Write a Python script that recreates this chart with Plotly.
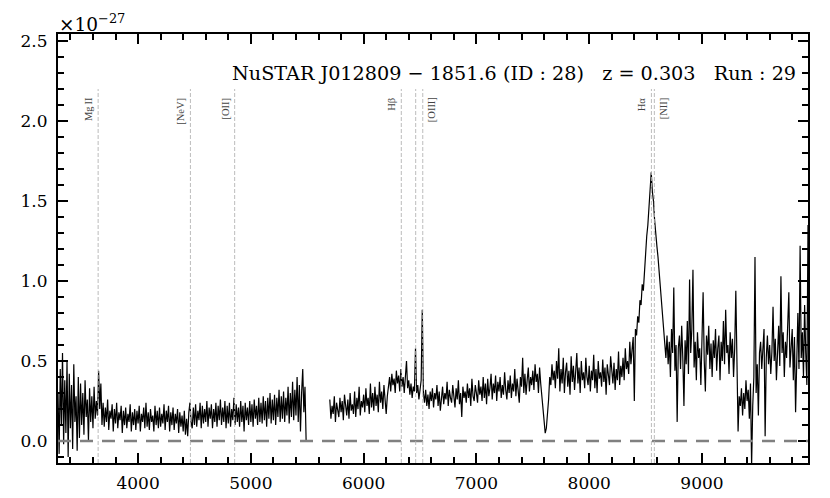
import numpy as np
import plotly.graph_objects as go

# ---------------- data ----------------
REDSHIFT = 0.303
BLUE_START, BLUE_END = 3290, 5490
RED_START, RED_END = 5700, 9940
STEP = 10

flux_blue = [
    0.30, -0.08, 0.45, 0.10, 0.55, -0.02, 0.38, 0.05, 0.50, -0.10,
    0.42, 0.08, 0.35, -0.05, 0.48, 0.12, 0.28, -0.06, 0.40, 0.02,
    0.36, 0.10, 0.30, 0.04, 0.38, 0.15, 0.26, 0.00, 0.33, 0.12,
    0.28, 0.08, 0.34, 0.14, 0.25, 0.16, 0.44, 0.20, 0.36, 0.10,
    0.24, 0.09, 0.21, 0.12, 0.26, 0.07, 0.19, 0.14, 0.23, 0.06,
    0.20, 0.11, 0.24, 0.08, 0.18, 0.13, 0.22, 0.05, 0.19, 0.10,
    0.21, 0.08, 0.17, 0.12, 0.23, 0.06, 0.18, 0.10, 0.20, 0.07,
    0.19, 0.11, 0.22, 0.06, 0.17, 0.12, 0.21, 0.08, 0.24, 0.09,
    0.18, 0.07, 0.20, 0.12, 0.16, 0.06, 0.22, 0.10, 0.19, 0.08,
    0.21, 0.09, 0.17, 0.11, 0.23, 0.07, 0.19, 0.12, 0.22, 0.06,
    0.18, 0.10, 0.21, 0.07, 0.17, 0.11, 0.20, 0.05, 0.18, 0.09,
    0.16, 0.06, 0.19, 0.04, 0.14, 0.03, 0.18, 0.24, 0.12, 0.08,
    0.21, 0.10, 0.23, 0.09, 0.19, 0.13, 0.24, 0.08, 0.22, 0.11,
    0.20, 0.12, 0.25, 0.09, 0.21, 0.14, 0.23, 0.08, 0.20, 0.12,
    0.24, 0.09, 0.22, 0.13, 0.26, 0.10, 0.21, 0.12, 0.25, 0.08,
    0.22, 0.11, 0.24, 0.09, 0.20, 0.13, 0.27, 0.10, 0.23, 0.12,
    0.21, 0.09, 0.25, 0.12, 0.22, 0.06, 0.24, 0.13, 0.21, 0.10,
    0.25, 0.12, 0.23, 0.09, 0.26, 0.14, 0.22, 0.10, 0.27, 0.12,
    0.24, 0.11, 0.28, 0.13, 0.25, 0.09, 0.27, 0.14, 0.30, 0.11,
    0.26, 0.13, 0.29, 0.10, 0.27, 0.15, 0.32, 0.12, 0.28, 0.14,
    0.31, 0.12, 0.27, 0.16, 0.34, 0.11, 0.30, 0.15, 0.37, 0.13,
    0.32, 0.16, 0.40, 0.12, 0.35, 0.06, 0.30, 0.45, 0.18, 0.34,
    0.00,
]

flux_red = [
    0.26, 0.14, 0.22, 0.17, 0.28, 0.12, 0.24, 0.19, 0.15, 0.27,
    0.18, 0.25, 0.13, 0.29, 0.20, 0.16, 0.26, 0.14, 0.30, 0.19,
    0.23, 0.17, 0.31, 0.15, 0.27, 0.20, 0.34, 0.16, 0.25, 0.21,
    0.29, 0.18, 0.33, 0.22, 0.27, 0.17, 0.36, 0.21, 0.30, 0.19,
    0.34, 0.22, 0.29, 0.18, 0.37, 0.24, 0.31, 0.20, 0.35, 0.23,
    0.17, 0.28, 0.33, 0.40, 0.31, 0.42, 0.35, 0.39, 0.30, 0.44,
    0.36, 0.41, 0.31, 0.45, 0.34, 0.40, 0.30, 0.43, 0.50, 0.33,
    0.38, 0.29, 0.36, 0.27, 0.34, 0.31, 0.58, 0.30, 0.35, 0.26,
    0.33, 0.38, 0.82, 0.30, 0.24, 0.32, 0.22, 0.29, 0.20, 0.31,
    0.25, 0.33, 0.21, 0.30, 0.26, 0.35, 0.22, 0.31, 0.19, 0.28,
    0.34, 0.23, 0.30, 0.26, 0.37, 0.22, 0.32, 0.27, 0.24, 0.35,
    0.28, 0.21, 0.33, 0.26, 0.38, 0.23, 0.30, 0.15, 0.34, 0.27,
    0.31, 0.24, 0.36, 0.27, 0.33, 0.22, 0.39, 0.28, 0.25, 0.35,
    0.30, 0.24, 0.38, 0.29, 0.34, 0.25, 0.40, 0.27, 0.36, 0.23,
    0.39, 0.28, 0.33, 0.42, 0.26, 0.36, 0.30, 0.41, 0.25, 0.37,
    0.31, 0.40, 0.27, 0.35, 0.29, 0.43, 0.32, 0.26, 0.38, 0.30,
    0.41, 0.27, 0.36, 0.31, 0.45, 0.28, 0.39, 0.33, 0.24, 0.40,
    0.34, 0.52, 0.30, 0.42, 0.29, 0.38, 0.46, 0.31, 0.40, 0.35,
    0.44, 0.32, 0.48, 0.37, 0.42, 0.30, 0.46, 0.36, 0.28, 0.22,
    0.12, 0.05, 0.08, 0.15, 0.26, 0.40, 0.35, 0.48, 0.38, 0.44,
    0.33, 0.50, 0.39, 0.58, 0.31, 0.45, 0.36, 0.52, 0.30, 0.43,
    0.49, 0.34, 0.44, 0.29, 0.53, 0.37, 0.47, 0.32, 0.41, 0.55,
    0.36, 0.46, 0.30, 0.50, 0.38, 0.43, 0.33, 0.52, 0.40, 0.35,
    0.47, 0.31, 0.44, 0.38, 0.54, 0.33, 0.45, 0.30, 0.50, 0.39,
    0.43, 0.34, 0.51, 0.37, 0.46, 0.29, 0.48, 0.40, 0.35, 0.53,
    0.41, 0.36, 0.49, 0.32, 0.45, 0.38, 0.56, 0.35, 0.47, 0.40,
    0.52, 0.38, 0.58, 0.45, 0.50, 0.42, 0.62, 0.48, 0.57, 0.65,
    0.25, 0.70, 0.66, 0.78, 0.74, 0.88, 0.85, 0.98, 0.94, 1.08,
    1.20, 1.28, 1.35, 1.45, 1.52, 1.68, 1.56, 1.50, 1.38, 1.28,
    1.22, 1.15, 1.06, 0.94, 0.84, 0.74, 0.68, 0.60, 0.52, 0.66,
    0.48, 0.62, 0.40, 0.70, 0.55, 0.96, 0.44, 0.60, 0.12, 0.58,
    0.66, 0.45, 0.72, 0.52, 0.22, 0.63, 0.48, 0.75, 0.42, 1.01,
    0.55, 0.70, 1.07, 0.46, 0.62, 0.38, 0.68, 0.52, 0.58, 0.35,
    0.60, 0.93, 0.50, 0.31, 0.66, 0.54, 0.72, 0.45, 0.61, 0.40,
    0.63, 0.52, 0.70, 0.44, 0.58, 0.66, 0.38, 0.62, 0.50, 0.75,
    0.48, 0.82, 0.55, 0.60, 0.42, 0.68, 0.52, 0.64, 0.40, 0.58,
    0.94, 0.35, 0.06, 0.28, 0.22, 0.33, 0.16, 0.30, 0.20, 0.38,
    0.25, 0.32, 0.14, 0.36, -0.15, 0.22, 0.40, 1.15, 0.30, 0.48,
    0.16, 0.55, 0.62, 0.45, 0.58, 0.70, 0.03, 0.52, 0.66, 0.48,
    0.60, 0.42, 0.56, 0.84, 0.50, 0.64, 0.38, 0.58, 0.72, 0.47,
    1.03, 0.55, 0.68, 0.40, 0.62, 0.52, 0.75, 0.93, 0.46, 0.60,
    0.70, 0.38, 0.65, 0.18, 0.58, 0.80, 0.45, 1.22, 0.52, 0.68,
    0.40, 0.85, 0.55, 0.35, 1.35,
]

line_names = ["Mg\u2009II", "[NeV]", "[OII]", "Hβ", "", "[OIII]", "Hα", "[NII]"]
line_rest = [2798, 3426, 3727, 4861, 4959, 5007, 6563, 6583]
line_side = ["left", "left", "left", "left", "left", "right", "left", "right"]

SP = "\u00a0\u00a0\u00a0"
title_text = "NuSTAR J012809 − 1851.6 (ID : 28)" + SP + "z = 0.303" + SP + "Run : 29"
scale_text = "×10<sup>−27</sup>"

X_RANGE = [3290, 9940]
Y_RANGE = [-0.137, 2.544]

# ---------------- figure ----------------
wave_blue = np.arange(BLUE_START, BLUE_END + 1, STEP)
wave_red = np.arange(RED_START, RED_END + 1, STEP)
assert len(wave_blue) == len(flux_blue), (len(wave_blue), len(flux_blue))
assert len(wave_red) == len(flux_red), (len(wave_red), len(flux_red))

FONT = "DejaVu Serif"

fig = go.Figure()
for w, f in [(wave_blue, flux_blue), (wave_red, flux_red)]:
    fig.add_trace(go.Scatter(x=w, y=f, mode="lines",
                             line=dict(color="black", width=1.2),
                             showlegend=False, hoverinfo="skip"))

# zero line
fig.add_shape(type="line", xref="x domain", yref="y", x0=0, x1=1, y0=0, y1=0,
              line=dict(color="#808080", width=2.5, dash="13px,9px"))

# emission line markers
for name, rest, side in zip(line_names, line_rest, line_side):
    obs = rest * (1 + REDSHIFT)
    fig.add_shape(type="line", xref="x", yref="y", x0=obs, x1=obs,
                  y0=Y_RANGE[0], y1=2.2,
                  line=dict(color="#b4b4b4", width=0.9, dash="4px,2px"))
    if name:
        fig.add_annotation(x=obs, y=2.16, xref="x", yref="y", text=name,
                           textangle=-90, showarrow=False,
                           xanchor="right" if side == "left" else "left",
                           yanchor="top",
                           xshift=-2 if side == "left" else 2,
                           font=dict(family="Liberation Serif", size=10.5, color="#444444"))

fig.add_annotation(x=0.987, y=0.909, xref="paper", yref="paper", text=title_text,
                   showarrow=False, xanchor="right", yanchor="middle",
                   font=dict(family=FONT, size=19.2, color="black"))
fig.add_annotation(x=0.0, y=1.0, xref="paper", yref="paper", text=scale_text,
                   showarrow=False, xanchor="left", yanchor="bottom", yshift=-3, xshift=-1,
                   font=dict(family=FONT, size=18.5, color="black"))

axis_common = dict(showline=True, linewidth=2, linecolor="black", mirror="allticks",
                   ticks="inside", ticklen=10, tickwidth=2, tickcolor="black",
                   showgrid=False, zeroline=False, automargin=False,
                   tickfont=dict(family=FONT, size=17, color="black"))

fig.update_xaxes(range=X_RANGE, tickvals=[4000, 5000, 6000, 7000, 8000, 9000],
                 ticklabelstandoff=4,
                 minor=dict(dtick=200, tick0=0, ticks="inside", ticklen=6,
                            tickwidth=1.5, tickcolor="black"),
                 **axis_common)
fig.update_yaxes(range=Y_RANGE, tickvals=[0.0, 0.5, 1.0, 1.5, 2.0, 2.5],
                 tickformat=".1f", ticklabelstandoff=5,
                 minor=dict(dtick=0.1, tick0=0, ticks="inside", ticklen=6,
                            tickwidth=1.5, tickcolor="black"),
                 **axis_common)

fig.update_layout(width=830, height=498, plot_bgcolor="white", paper_bgcolor="white",
                  margin=dict(l=50, r=30, t=26, b=43),
                  font=dict(family=FONT, size=17, color="black"))

fig.write_html("out.html")
